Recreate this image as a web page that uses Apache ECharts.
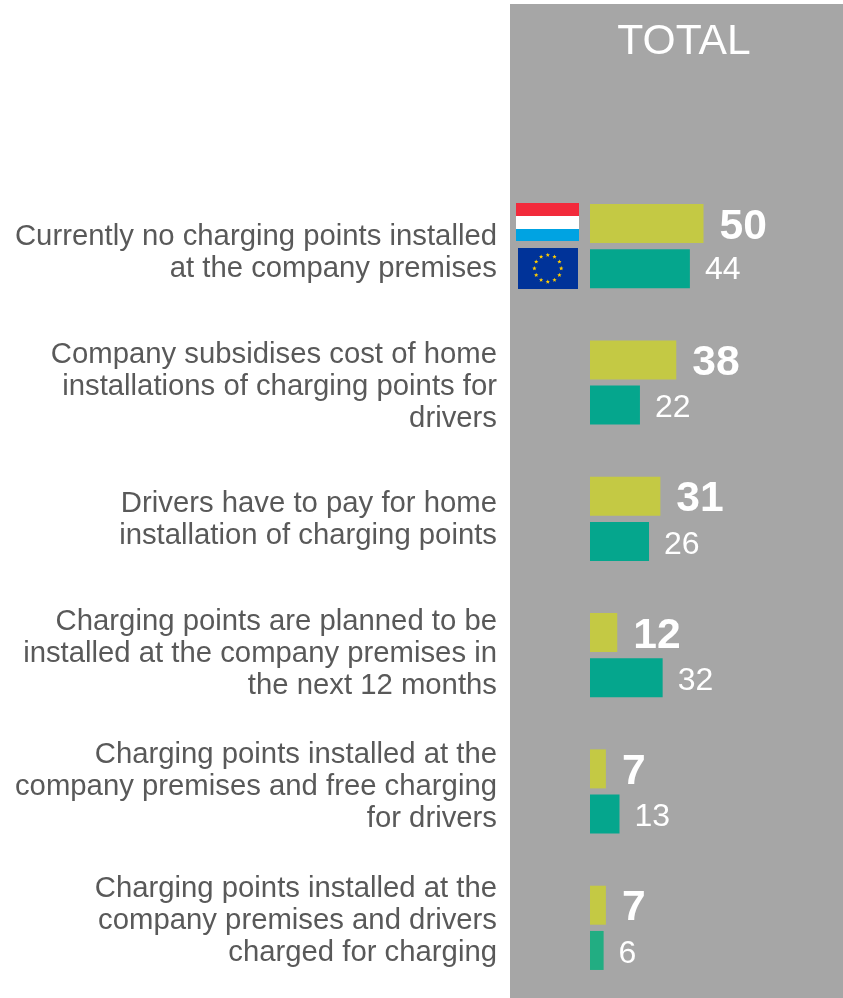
<!DOCTYPE html>
<html>
<head>
<meta charset="utf-8">
<style>html,body{margin:0;padding:0;background:#fff}#c{width:843px;height:998px}</style>
<script src="https://cdn.jsdelivr.net/npm/echarts@6/dist/echarts.min.js"></script>
</head>
<body>
<div id="c"></div>
<script>
var categories = [
  "Currently no charging points installed\nat the company premises",
  "Company subsidises cost of home\ninstallations of charging points for\ndrivers",
  "Drivers have to pay for home\ninstallation of charging points",
  "Charging points are planned to be\ninstalled at the company premises in\nthe next 12 months",
  "Charging points installed at the\ncompany premises and free charging\nfor drivers",
  "Charging points installed at the\ncompany premises and drivers\ncharged for charging"
];
var luxembourg = [50, 38, 31, 12, 7, 7];
var eu = [44, 22, 26, 32, 13, 6];
var panelTitle = "TOTAL";
var FONT = '"Liberation Sans", Arial, sans-serif';

var chart = echarts.init(document.getElementById('c'), null, {renderer: 'canvas'});

function starPoints(cx, cy, R, r) {
  var pts = [];
  for (var i = 0; i < 10; i++) {
    var a = -Math.PI / 2 + i * Math.PI / 5, d = i % 2 ? r : R;
    pts.push([cx + d * Math.cos(a), cy + d * Math.sin(a)]);
  }
  return pts;
}
var euStars = [];
for (var k = 0; k < 12; k++) {
  var ang = k * Math.PI / 6;
  euStars.push({
    type: 'polygon', z: 5,
    shape: {points: starPoints(547.8 + 13.4 * Math.cos(ang), 268.4 + 13.4 * Math.sin(ang), 2.3, 1)},
    style: {fill: '#FFCC00'}
  });
}

var graphics = [
  {type: 'rect', z: -10, shape: {x: 510, y: 4, width: 333, height: 994}, style: {fill: '#A6A6A6'}},
  {type: 'rect', z: 5, shape: {x: 516, y: 203, width: 63, height: 13}, style: {fill: '#F22A3B'}},
  {type: 'rect', z: 5, shape: {x: 516, y: 216, width: 63, height: 13}, style: {fill: '#FFFFFF'}},
  {type: 'rect', z: 5, shape: {x: 516, y: 229, width: 63, height: 12}, style: {fill: '#00A3E2'}},
  {type: 'rect', z: 5, shape: {x: 518, y: 248, width: 60, height: 41}, style: {fill: '#003399'}}
].concat(euStars);

chart.setOption({
  animation: false,
  backgroundColor: '#ffffff',
  title: {
    text: panelTitle, left: 679, top: 16, textAlign: 'center',
    textStyle: {color: '#FFFFFF', fontFamily: FONT, fontSize: 42.6, fontWeight: 'normal'}
  },
  graphic: graphics,
  grid: [
    {left: 590, top: 178, width: 227, height: 818},
    {left: 590, top: 186.2, width: 227, height: 801}
  ],
  xAxis: [
    {gridIndex: 0, type: 'value', min: 0, max: 100, show: false},
    {gridIndex: 1, type: 'value', min: 0, max: 100, show: false}
  ],
  yAxis: [
    {gridIndex: 0, type: 'category', inverse: true, data: categories,
     axisLine: {show: false}, axisTick: {show: false}, axisLabel: {show: false}},
    {gridIndex: 1, type: 'category', inverse: true, data: categories,
     axisLine: {show: false}, axisTick: {show: false},
     axisLabel: {show: true, margin: 93, align: 'right', color: '#595959',
       fontFamily: FONT, fontSize: 29.3, lineHeight: 32}}
  ],
  series: [
    {name: 'Luxembourg', type: 'bar', xAxisIndex: 0, yAxisIndex: 0, data: luxembourg,
     barWidth: 39, barGap: '16%',
     itemStyle: {color: '#C4C944'},
     label: {show: true, position: 'right', distance: 16, offset: [0, 3.5], color: '#FFFFFF',
       fontFamily: FONT, fontSize: 42.6, fontWeight: 'bold'}},
    {name: 'EU', type: 'bar', xAxisIndex: 0, yAxisIndex: 0,
     data: eu.map(function (v, i) {
       var item = {value: v};
       if (i === 0) item.label = {offset: [0, 1]};
       if (i === eu.length - 1) item.itemStyle = {color: '#22AD82'};
       return item;
     }),
     barWidth: 39,
     itemStyle: {color: '#05A68D'},
     label: {show: true, position: 'right', distance: 15, offset: [0, 3.5], color: '#FFFFFF',
       fontFamily: FONT, fontSize: 32}}
  ]
});
</script>
</body>
</html>
